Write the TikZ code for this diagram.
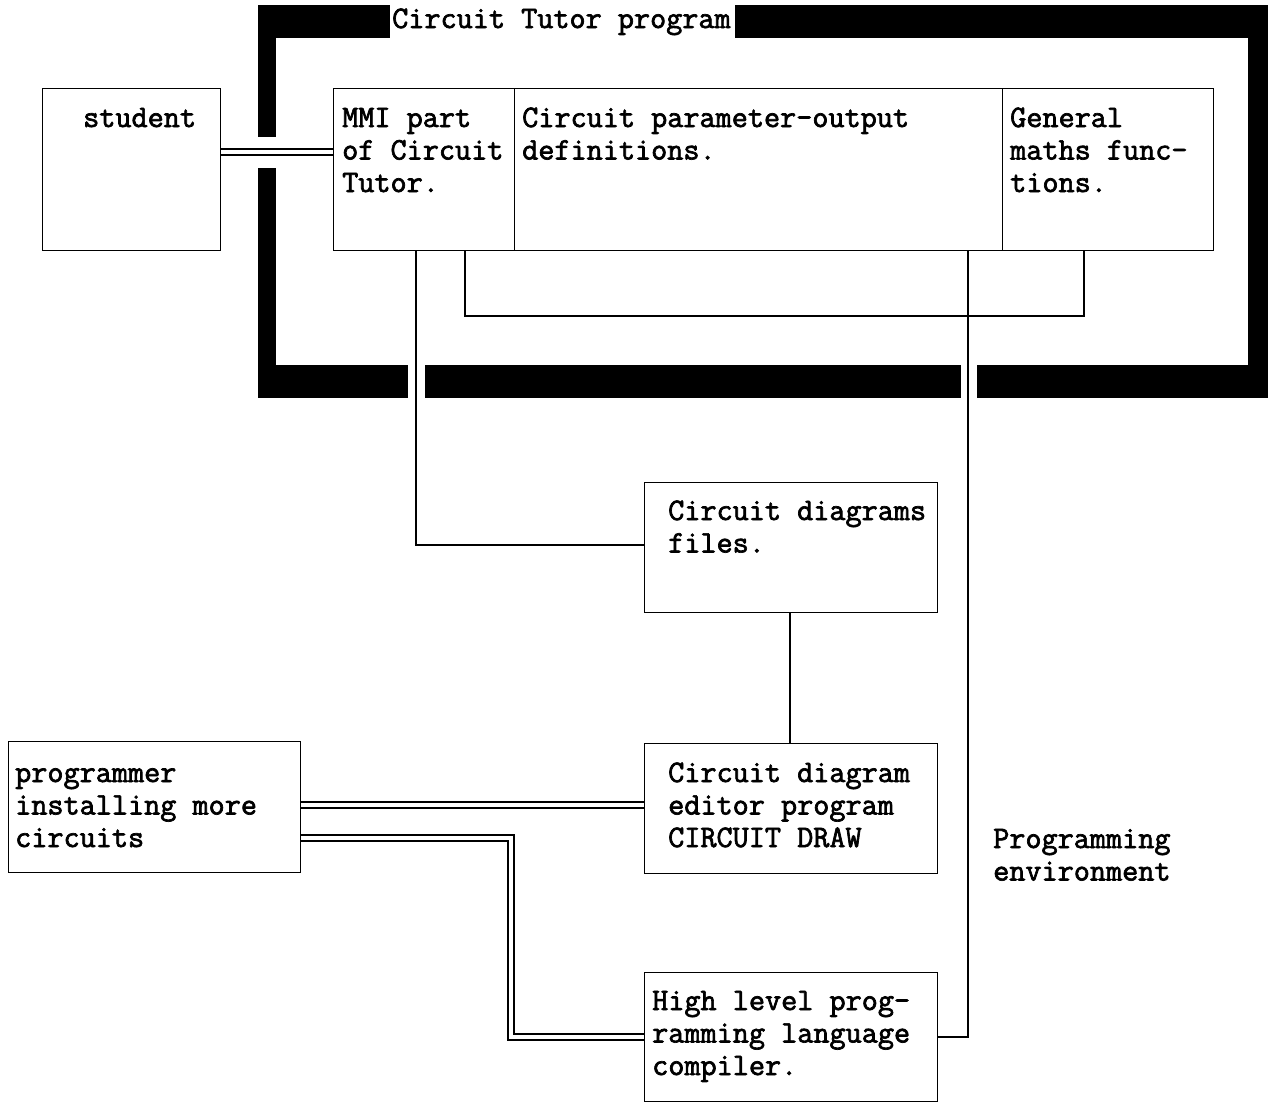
\documentclass[tikz,border=0pt]{standalone}
\usepackage{fontspec}
\newfontfamily\printfont{Latin Modern Mono}[FakeBold=2.2]
\begin{document}
\begin{tikzpicture}[x=1pt,y=-1pt,
  box/.style={draw, line width=1.3pt, inner sep=0pt, anchor=north west},
  % texts are placed by the baseline of their last line
  txt/.style={font=\printfont\fontsize{31.3}{32.5}\selectfont,
              align=left, anchor=base west, inner sep=0pt},
  link/.style={line width=1.3pt},
  dlink/.style={double, double distance=4.5pt, line width=1.3pt},
  band/.style={fill=black}]
\useasboundingbox (0,0) rectangle (1268,1103);

% heavy frame around the Circuit Tutor program
\node[txt] (title) at (392,28) {Circuit Tutor program};
\fill[band] (258,5) rectangle (390,38);
\fill[band] (735,5) rectangle (1268,38);
\fill[band] (1248,5) rectangle (1268,398);
\fill[band] (258,5) rectangle (276,137);
\fill[band] (258,168) rectangle (276,398);
\fill[band] (258,365) rectangle (408,398);
\fill[band] (425,365) rectangle (961,398);
\fill[band] (977,365) rectangle (1268,398);

% boxes
\node[box, minimum width=178pt, minimum height=162pt] (student) at (42,88) {};
\node[box, minimum width=181pt, minimum height=162pt] (mmi) at (333,88) {};
\node[box, minimum width=488pt, minimum height=162pt] (param) at (514,88) {};
\node[box, minimum width=211pt, minimum height=162pt] (maths) at (1002,88) {};
\node[box, minimum width=293pt, minimum height=130pt] (files) at (644,482) {};
\node[box, minimum width=293pt, minimum height=130pt] (editor) at (644,743) {};
\node[box, minimum width=292pt, minimum height=131pt] (prog) at (8,741) {};
\node[box, minimum width=293pt, minimum height=129pt] (hll) at (644,972) {};

% box texts
\node[txt] at (83,127) {student};
\node[txt] at (342,192) {MMI part\\of Circuit\\Tutor.};
\node[txt] at (522,159.5) {Circuit parameter-output\\definitions.};
\node[txt] at (1010,192) {General\\maths func-\\tions.};
\node[txt] at (668,552.5) {Circuit diagrams\\files.};
\node[txt] at (15,847) {programmer\\installing more\\circuits};
\node[txt] at (668,847) {Circuit diagram\\editor program\\CIRCUIT DRAW};
\node[txt] at (652,1075) {High level prog-\\ramming language\\compiler.};
\node[txt] (env) at (993,880.5) {Programming\\environment};

% connectors
\draw[dlink] (student.east |- 0,152) -- (mmi.west |- 0,152);
\draw[link] (mmi.south -| 416,0) |- (files.west |- 0,545);
\draw[link] (mmi.south -| 465,0) -- (465,316) -- (1084,316) -- (maths.south -| 1084,0);
\draw[link] (param.south -| 968,0) |- (hll.east |- 0,1037);
\draw[link] (files.south -| 790,0) -- (editor.north -| 790,0);
\draw[dlink] (prog.east |- 0,805) -- (editor.west |- 0,805);
\draw[dlink] (prog.east |- 0,838) -- (511,838) -- (511,1037) -- (hll.west |- 0,1037);
\end{tikzpicture}
\end{document}
